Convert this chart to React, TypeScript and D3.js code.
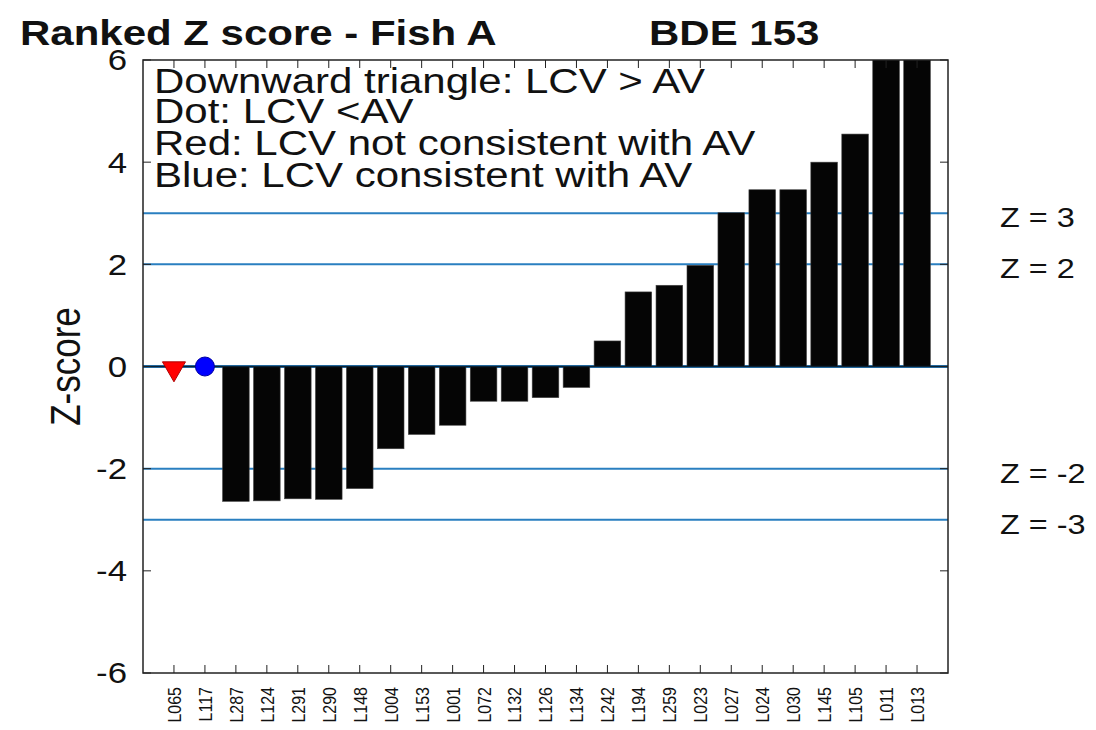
import { scaleLinear, symbol, symbolTriangle } from "d3";

// data
const categories = [
  "L065", "L117", "L287", "L124", "L291", "L290", "L148", "L004", "L153",
  "L001", "L072", "L132", "L126", "L134", "L242", "L194", "L259", "L023",
  "L027", "L024", "L030", "L145", "L105", "L011", "L013",
];
// z-scores (last two go off the top of the axis)
const zScores = [
  0, 0, -2.64, -2.63, -2.59, -2.6, -2.39, -1.61, -1.33, -1.15, -0.68, -0.68,
  -0.61, -0.41, 0.5, 1.46, 1.59, 1.98, 3.01, 3.46, 3.46, 4.0, 4.55, 7.2, 8.1,
];
// the first labs get a marker instead of a bar
const markerShapes = ["triangle", "dot"];
const markerColors = ["#ff0000", "#0000ff"];

const yTicks = [-6, -4, -2, 0, 2, 4, 6];
const limitLines = [3, 2, -2, -3];
const limitLabels = ["Z = 3", "Z = 2", "Z = -2", "Z = -3"];
const noteLines = [
  "Downward triangle: LCV > AV",
  "Dot: LCV <AV",
  "Red: LCV not consistent with AV",
  "Blue: LCV consistent with AV",
];

const FONT = "'Liberation Sans', Arial, sans-serif";
const SX = 1.2; // text in the picture is a bit wide

const App = () => {
  const left = 143;
  const right = 948;
  const top = 60;
  const bottom = 673;

  const x = scaleLinear().domain([0, categories.length + 1]).range([left, right]);
  const y = scaleLinear().domain([-6, 6]).range([bottom, top]);
  const step = x(1) - x(0);
  const barW = step * 0.86;
  const tickLen = 8;

  const tri = symbol().type(symbolTriangle).size(230)();

  return (
    <svg
      width={1096}
      height={730}
      style={{ position: "absolute", left: 0, top: 0, background: "#fff" }}
      fontFamily={FONT}
    >
      <defs>
        <clipPath id="plotArea">
          <rect x={left} y={top} width={right - left} height={bottom - top} />
        </clipPath>
      </defs>

      {/* title */}
      <g transform={`translate(20,45) scale(${SX},1)`}>
        <text fontSize={35} fontWeight="bold" fill="#111">
          Ranked Z score - Fish A
        </text>
      </g>
      <g transform={`translate(649,45) scale(${SX},1)`}>
        <text fontSize={35} fontWeight="bold" fill="#111">
          BDE 153
        </text>
      </g>

      {/* limit lines */}
      {limitLines.map((v) => (
        <line key={v} x1={left} x2={right} y1={y(v)} y2={y(v)} stroke="#2a7fc0" strokeWidth={2} />
      ))}
      <line x1={left} x2={right} y1={y(0)} y2={y(0)} stroke="#2a7fc0" strokeWidth={3} />

      {/* bars */}
      <g clipPath="url(#plotArea)">
        {zScores.map((v, i) =>
          i < markerShapes.length ? null : (
            <rect
              key={categories[i]}
              x={x(i + 1) - barW / 2}
              y={Math.min(y(v), y(0))}
              width={barW}
              height={Math.abs(y(v) - y(0))}
              fill="#050505"
              stroke="#444"
              strokeWidth={0.6}
            />
          )
        )}
      </g>
      <line x1={left} x2={right} y1={y(0)} y2={y(0)} stroke="#0d2233" strokeWidth={1.5} />

      {/* markers */}
      {markerShapes.map((s, i) =>
        s === "triangle" ? (
          <path
            key={i}
            d={tri}
            transform={`translate(${x(i + 1)},${y(zScores[i]) + 2}) rotate(180)`}
            fill={markerColors[i]}
            stroke="#b00000"
            strokeWidth={1}
          />
        ) : (
          <circle key={i} cx={x(i + 1)} cy={y(zScores[i])} r={9.5} fill={markerColors[i]} stroke="#0000a0" strokeWidth={1} />
        )
      )}

      {/* notes */}
      {noteLines.map((t, i) => (
        <g key={t} transform={`translate(154,${[93, 123, 155, 187][i]}) scale(${SX},1)`}>
          <text fontSize={35} fill="#111">
            {t}
          </text>
        </g>
      ))}

      {/* frame */}
      <rect x={left} y={top} width={right - left} height={bottom - top} fill="none" stroke="#222" strokeWidth={1.5} />

      {/* x ticks top and bottom */}
      {categories.map((c, i) => (
        <g key={c}>
          <line x1={x(i + 1)} x2={x(i + 1)} y1={bottom} y2={bottom - tickLen} stroke="#222" strokeWidth={1} />
          <line x1={x(i + 1)} x2={x(i + 1)} y1={top} y2={top + tickLen} stroke="#222" strokeWidth={1} />
          <g transform={`translate(${x(i + 1)},687) scale(${SX},1) rotate(-90)`}>
            <text fontSize={16} textAnchor="end" dy="0.36em" fill="#111">
              {c}
            </text>
          </g>
        </g>
      ))}

      {/* y ticks left and right */}
      {yTicks.map((t) => (
        <g key={t}>
          <line x1={left} x2={left + tickLen} y1={y(t)} y2={y(t)} stroke="#222" strokeWidth={1} />
          <line x1={right} x2={right - tickLen} y1={y(t)} y2={y(t)} stroke="#222" strokeWidth={1} />
          <g transform={`translate(127,${y(t)}) scale(${SX},1)`}>
            <text fontSize={29} textAnchor="end" dy="0.36em" fill="#111">
              {t}
            </text>
          </g>
        </g>
      ))}

      {/* y label */}
      <g transform={`translate(65,${y(0)}) scale(${SX},1) rotate(-90)`}>
        <text fontSize={35} textAnchor="middle" dy="0.36em" fill="#111">
          Z-score
        </text>
      </g>

      {/* limit labels */}
      {limitLines.map((v, i) => (
        <g key={v} transform={`translate(1000,${y(v) + 14}) scale(${SX},1)`}>
          <text fontSize={27} fill="#111">
            {limitLabels[i]}
          </text>
        </g>
      ))}
    </svg>
  );
};

export default App;
